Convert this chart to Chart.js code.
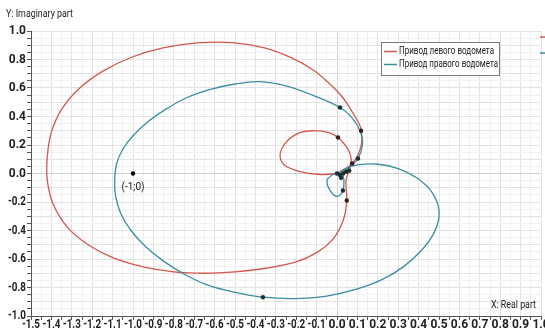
<!DOCTYPE html>
<html>
<head>
<meta charset="utf-8">
<script src="https://cdn.jsdelivr.net/npm/chart.js@4.4.1/dist/chart.umd.min.js"></script>
<style>
  html, body { margin: 0; padding: 0; background: #fff; }
  #wrap { width: 545px; height: 335px; }
</style>
</head>
<body>
<div id="wrap"><canvas id="nyquist" width="545" height="335"></canvas></div>
<script>
// Nyquist curves of both water-jet drives
const seriesNames = ['Привод левого водомета', 'Привод правого водомета'];

// left drive: small loop first, then the big loop back to the origin
const leftRe = [0, -0.083, -0.181, -0.255, -0.279, -0.255, -0.191, -0.118, -0.044, 0.005, 0.049, 0.069,
  0.064, 0.044, 0.048, 0.03, -0.02, -0.10, -0.20, -0.35, -0.50, -0.65, -0.80, -0.95, -1.10, -1.22,
  -1.32, -1.39, -1.42, -1.42, -1.40, -1.35, -1.265, -1.15, -1.01, -0.853, -0.686, -0.514, -0.35, -0.22,
  -0.12, -0.04, 0.03, 0.08, 0.105, 0.12, 0.12, 0.10, 0.074, 0.035, 0];
const leftIm = [0, -0.007, 0.014, 0.056, 0.126, 0.21, 0.281, 0.30, 0.288, 0.253, 0.182, 0.112,
  0.035, -0.049, -0.189, -0.33, -0.46, -0.555, -0.62, -0.665, -0.69, -0.70, -0.69, -0.655, -0.59, -0.50,
  -0.38, -0.22, -0.05, 0.12, 0.29, 0.45, 0.595, 0.717, 0.814, 0.881, 0.916, 0.918, 0.88, 0.81,
  0.73, 0.635, 0.53, 0.42, 0.36, 0.30, 0.21, 0.12, 0.07, 0.025, 0];

// right drive: big loop first, then the small loop under the origin
const rightRe = [0, 0.04, 0.10, 0.20, 0.30, 0.39, 0.46, 0.495, 0.50, 0.475, 0.42, 0.33, 0.22, 0.10, -0.05,
  -0.20, -0.363, -0.50, -0.64, -0.75, -0.85, -0.94, -1.01, -1.06, -1.085, -1.09, -1.08, -1.05, -1.00,
  -0.93, -0.84, -0.74, -0.62, -0.50, -0.38, -0.25, -0.12, 0.015, 0.08, 0.115, 0.125, 0.103, 0.06, 0.03,
  0.034, 0.029, 0, -0.034, -0.049, -0.02, 0];
const rightIm = [0, 0.035, 0.06, 0.065, 0.035, -0.03, -0.12, -0.22, -0.31, -0.42, -0.53, -0.65, -0.745,
  -0.81, -0.86, -0.878, -0.868, -0.835, -0.78, -0.705, -0.615, -0.51, -0.40, -0.28, -0.16, -0.05, 0.07,
  0.17, 0.265, 0.36, 0.45, 0.53, 0.59, 0.628, 0.645, 0.615, 0.55, 0.463, 0.38, 0.29, 0.20, 0.105, 0.04,
  0.005, -0.049, -0.119, -0.161, -0.119, -0.049, -0.007, 0];

// frequency markers on the curves
const leftMarkRe = [0.005, 0.118, 0.074, 0.048];
const leftMarkIm = [0.253, 0.30, 0.07, -0.189];
const rightMarkRe = [0.015, 0.103, 0.029, -0.363, 0.0, 0.015, 0.03, 0.045, 0.06, 0.02];
const rightMarkIm = [0.463, 0.105, -0.119, -0.868, 0.0, -0.01, 0.0, 0.012, 0.02, -0.03];

const critRe = [-1];
const critIm = [0];
const critLabel = '(-1;0)';

const xTicks = { min: -1.5, max: 1.0 };
const yTicks = { min: -1.0, max: 1.0 };

const RED = '#d2584c';
const TEAL = '#3b8e9f';
const tickFont = { family: "Roboto, 'Liberation Sans', sans-serif", size: 10, weight: 'bold' };
const tickCss = "bold 12px Roboto, 'Liberation Sans', sans-serif";
const textFont = "10px Roboto, 'Liberation Sans', sans-serif";

function zip(xs, ys) {
  return xs.map((x, i) => ({ x: x, y: ys[i] }));
}

function gridColor(ctx) {
  const v = ctx.tick ? ctx.tick.value : 0;
  if (Math.abs(v) < 1e-9) return '#d0d0d0';
  return Math.round(v * 20) % 2 === 0 ? '#e3e3e3' : '#f0f0f0';
}

// tick labels (narrowed like the original), legend, axis titles, (-1;0) label
const overlay = {
  id: 'overlay',
  afterDraw(chart) {
    const c = chart.ctx;
    const xs = chart.scales.x, ys = chart.scales.y;
    c.save();
    c.textBaseline = 'middle';
    c.fillStyle = '#222';
    c.font = tickCss;
    c.textAlign = 'center';
    xs.ticks.forEach(t => {
      if (t.label) c.fillText(t.label, xs.getPixelForValue(t.value), 325, 18);
    });
    c.textAlign = 'right';
    ys.ticks.forEach(t => {
      if (t.label) c.fillText(t.label, 26, ys.getPixelForValue(t.value), 18);
    });

    c.font = textFont;
    c.textAlign = 'left';
    c.fillText('Y: Imaginary part', 6, 14, 67);
    c.fillText('X: Real part', 491, 305, 45);

    // critical point label
    c.textAlign = 'center';
    c.fillText(critLabel, xs.getPixelForValue(critRe[0]), ys.getPixelForValue(critIm[0]) + 14);

    // legend box
    c.fillStyle = '#fff';
    c.fillRect(381, 42, 118, 33);
    c.strokeStyle = '#7a7a7a';
    c.lineWidth = 1;
    c.strokeRect(381.5, 42.5, 118, 33);
    c.textAlign = 'left';
    const cols = [RED, TEAL];
    const edgeRows = [37, 53];
    seriesNames.forEach((name, i) => {
      const y = 51.5 + i * 13;
      c.strokeStyle = cols[i];
      c.lineWidth = 1.5;
      c.beginPath();
      c.moveTo(384, y);
      c.lineTo(397, y);
      c.stroke();
      c.fillStyle = '#222';
      c.fillText(name, 399, y, i === 0 ? 95 : 99);
      // clipped second legend at the right edge
      c.beginPath();
      c.moveTo(540, edgeRows[i]);
      c.lineTo(545, edgeRows[i]);
      c.stroke();
    });
    c.restore();
  }
};

new Chart(document.getElementById('nyquist'), {
  type: 'line',
  data: {
    datasets: [
      { label: seriesNames[0], data: zip(leftRe, leftIm), borderColor: RED, borderWidth: 1.3,
        pointRadius: 0, tension: 0.35, fill: false, order: 3 },
      { label: seriesNames[1], data: zip(rightRe, rightIm), borderColor: TEAL, borderWidth: 1.3,
        pointRadius: 0, tension: 0.35, fill: false, order: 2 },
      { label: 'marks L', data: zip(leftMarkRe, leftMarkIm), showLine: false, pointRadius: 2.2,
        backgroundColor: '#3a1c1c', borderWidth: 0, order: 1 },
      { label: 'marks R', data: zip(rightMarkRe, rightMarkIm), showLine: false, pointRadius: 2.2,
        backgroundColor: '#1c2f33', borderWidth: 0, order: 1 },
      { label: 'crit', data: zip(critRe, critIm), showLine: false, pointRadius: 2.2,
        backgroundColor: '#000', borderWidth: 0, order: 1 }
    ]
  },
  options: {
    responsive: false,
    animation: false,
    layout: { padding: { left: 0, top: 31, right: 4, bottom: 0 } },
    plugins: { legend: { display: false }, tooltip: { enabled: false } },
    scales: {
      x: {
        type: 'linear',
        min: xTicks.min,
        max: xTicks.max,
        border: { color: '#555', width: 1 },
        grid: { color: gridColor, tickColor: '#555', tickLength: 4 },
        ticks: {
          stepSize: 0.05, autoSkip: false, maxRotation: 0, padding: 1, color: 'rgba(0,0,0,0)', font: tickFont,
          callback: v => (Math.round(v * 20) % 2 === 0 ? v.toFixed(1) : '')
        },
        afterFit(s) { s.height = 19; s.paddingLeft = 0; s.paddingRight = 0; }
      },
      y: {
        type: 'linear',
        min: yTicks.min,
        max: yTicks.max,
        border: { color: '#555', width: 1 },
        grid: { color: gridColor, tickColor: '#555', tickLength: 4 },
        ticks: {
          stepSize: 0.05, autoSkip: false, padding: 3, color: 'rgba(0,0,0,0)', font: tickFont,
          callback: v => (Math.round(v * 20) % 4 === 0 ? v.toFixed(1) : '')
        },
        afterFit(s) { s.width = 31; s.paddingTop = 0; s.paddingBottom = 0; }
      }
    }
  },
  plugins: [overlay]
});
</script>
</body>
</html>
